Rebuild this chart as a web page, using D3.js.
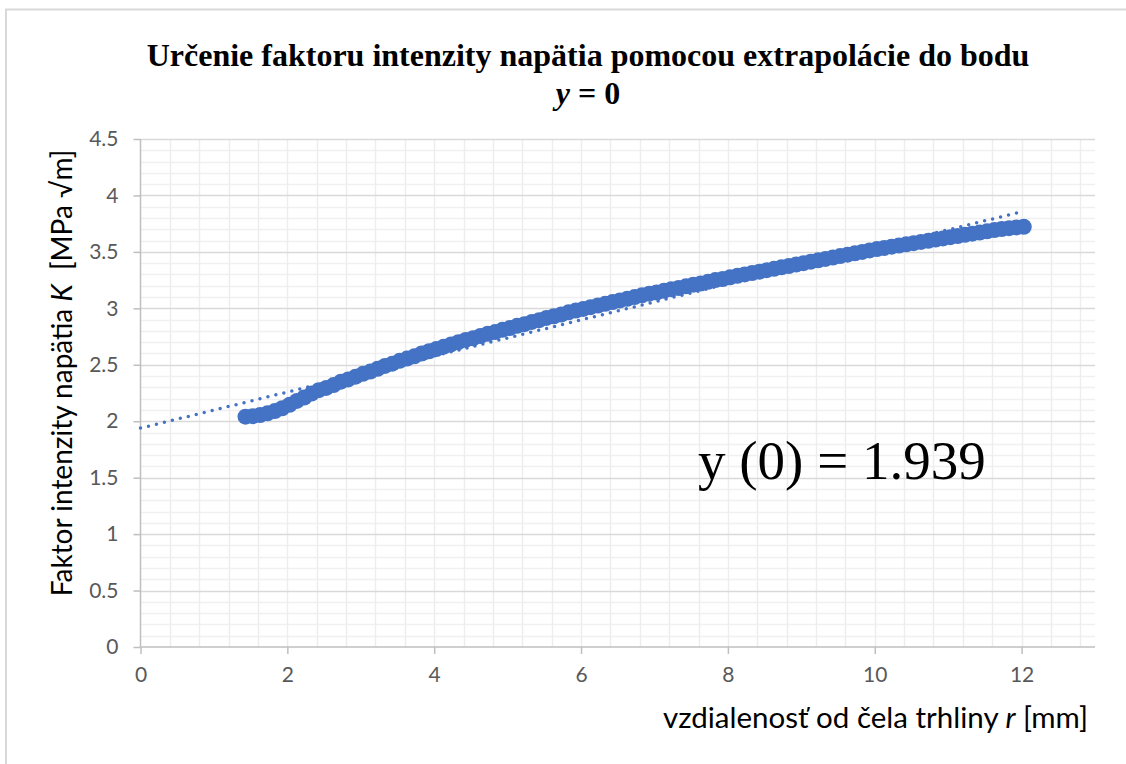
<!DOCTYPE html>
<html>
<head>
<meta charset="utf-8">
<script src="https://cdn.jsdelivr.net/npm/d3@7"></script>
<style>
  html, body { margin: 0; padding: 0; background: #fff; }
  svg { display: block; }
  text { white-space: pre; }
</style>
</head>
<body>
<svg id="chart" width="1126" height="764"></svg>
<script>
// Distance from the crack front r [mm]
const rValues = [
  1.43, 1.53, 1.63, 1.73, 1.83, 1.93, 2.03, 2.13, 2.23, 2.33,
  2.43, 2.53, 2.63, 2.73, 2.83, 2.93, 3.03, 3.13, 3.23, 3.33,
  3.43, 3.53, 3.63, 3.73, 3.83, 3.93, 4.03, 4.13, 4.23, 4.33,
  4.43, 4.53, 4.63, 4.73, 4.83, 4.93, 5.03, 5.13, 5.23, 5.33,
  5.43, 5.53, 5.63, 5.73, 5.83, 5.93, 6.03, 6.13, 6.23, 6.33,
  6.43, 6.53, 6.63, 6.73, 6.83, 6.93, 7.03, 7.13, 7.23, 7.33,
  7.43, 7.53, 7.63, 7.73, 7.83, 7.93, 8.03, 8.13, 8.23, 8.33,
  8.43, 8.53, 8.63, 8.73, 8.83, 8.93, 9.03, 9.13, 9.23, 9.33,
  9.43, 9.53, 9.63, 9.73, 9.83, 9.93, 10.03, 10.13, 10.23, 10.33,
  10.43, 10.53, 10.63, 10.73, 10.83, 10.93, 11.03, 11.13, 11.23, 11.33,
  11.43, 11.53, 11.63, 11.73, 11.83, 11.93, 12.03
];

// Stress intensity factor K [MPa √m]
const kValues = [
  2.040, 2.045, 2.055, 2.070, 2.090, 2.115, 2.145, 2.180, 2.210, 2.245,
  2.275, 2.295, 2.320, 2.350, 2.370, 2.395, 2.420, 2.440, 2.465, 2.490,
  2.510, 2.535, 2.555, 2.575, 2.600, 2.620, 2.640, 2.660, 2.680, 2.700,
  2.720, 2.735, 2.755, 2.775, 2.790, 2.810, 2.825, 2.845, 2.860, 2.880,
  2.895, 2.915, 2.930, 2.945, 2.965, 2.980, 2.995, 3.010, 3.025, 3.040,
  3.055, 3.070, 3.085, 3.100, 3.115, 3.130, 3.140, 3.155, 3.170, 3.180,
  3.195, 3.210, 3.220, 3.235, 3.250, 3.260, 3.275, 3.288, 3.300, 3.313,
  3.325, 3.338, 3.350, 3.363, 3.375, 3.388, 3.400, 3.413, 3.425, 3.438,
  3.450, 3.463, 3.475, 3.488, 3.500, 3.513, 3.525, 3.535, 3.546, 3.556,
  3.567, 3.577, 3.588, 3.598, 3.609, 3.619, 3.630, 3.640, 3.651, 3.661,
  3.672, 3.682, 3.693, 3.703, 3.710, 3.717, 3.722
];

// Linear trend extrapolated to r = 0
const trendIntercept = 1.939;
const trendSlope = 0.1597;
const trendExtent = [0, 12];

// Axis settings
const xDomain = [0, 13];
const yDomain = [0, 4.5];
const xTickValues = [0, 2, 4, 6, 8, 10, 12];
const yTickValues = [0, 0.5, 1, 1.5, 2, 2.5, 3, 3.5, 4, 4.5];
const xMinorStep = 0.4;
const yMinorStep = 0.1;

const titleLine1 = "Určenie faktoru intenzity napätia pomocou extrapolácie do bodu";
const annotationText = "y (0) = 1.939";

const points = rValues.map((r, i) => ({ r, k: kValues[i] }));

const svg = d3.select("#chart");
const W = 1126, H = 764;
const plot = { left: 140.5, right: 1095, top: 139, bottom: 647 };

const x = d3.scaleLinear().domain(xDomain).range([plot.left, plot.right]);
const y = d3.scaleLinear().domain(yDomain).range([plot.bottom, plot.top]);

const blue = "#4472C4";
const sans = "Lato, 'Liberation Sans', sans-serif";
const serif = "'Liberation Serif', 'Times New Roman', serif";

// Chart frame
svg.append("rect")
  .attr("x", 6).attr("y", 9.5)
  .attr("width", W + 20).attr("height", H + 20)
  .attr("fill", "#fff")
  .attr("stroke", "#d9d9d9").attr("stroke-width", 2);

// Minor gridlines
const grid = svg.append("g");
const xMinor = d3.range(xMinorStep, xDomain[1] + 1e-9, xMinorStep);
const yMinor = d3.range(yMinorStep, yDomain[1] + 1e-9, yMinorStep)
  .filter(v => Math.abs(v * 2 - Math.round(v * 2)) > 1e-6);

grid.selectAll(".ymin").data(yMinor).join("line")
  .attr("x1", plot.left).attr("x2", plot.right)
  .attr("y1", d => Math.round(y(d)) + 0.5).attr("y2", d => Math.round(y(d)) + 0.5)
  .attr("stroke", "#f0f0f0").attr("stroke-width", 1.5);

grid.selectAll(".xmin").data(xMinor).join("line")
  .attr("x1", d => Math.round(x(d)) + 0.5).attr("x2", d => Math.round(x(d)) + 0.5)
  .attr("y1", plot.top).attr("y2", plot.bottom)
  .attr("stroke", "#ededed").attr("stroke-width", 1.5);

// Major horizontal gridlines
grid.selectAll(".ymaj").data(yTickValues.filter(v => v > 0)).join("line")
  .attr("x1", plot.left).attr("x2", plot.right)
  .attr("y1", d => Math.round(y(d)) + 0.5).attr("y2", d => Math.round(y(d)) + 0.5)
  .attr("stroke", "#d9d9d9").attr("stroke-width", 1.5);

// Axes
const xAxis = d3.axisBottom(x)
  .tickValues(xTickValues).tickSize(7).tickPadding(13)
  .tickFormat(d3.format(""));
const yAxis = d3.axisLeft(y)
  .tickValues(yTickValues).tickSize(7).tickPadding(15)
  .tickFormat(d3.format(""));

const gx = svg.append("g")
  .attr("transform", `translate(0,${plot.bottom})`)
  .call(xAxis);
const gy = svg.append("g")
  .attr("transform", `translate(${plot.left},0)`)
  .call(yAxis);

[gx, gy].forEach(g => {
  g.select(".domain").attr("stroke", "#bfbfbf").attr("stroke-width", 1.5);
  g.selectAll(".tick line").attr("stroke", "#bfbfbf").attr("stroke-width", 1.5);
  g.selectAll(".tick text")
    .attr("fill", "#595959")
    .style("font-family", sans)
    .style("font-size", "21px");
});
gx.select(".domain").attr("d", `M${plot.left},0H${plot.right}`);
gy.select(".domain").attr("d", `M0,${plot.bottom}V${plot.top}`);

// Trendline (dotted)
const trend = trendExtent.map(r => ({ r, k: trendIntercept + trendSlope * r }));
svg.append("path")
  .datum(trend)
  .attr("d", d3.line().x(d => x(d.r)).y(d => y(d.k)))
  .attr("fill", "none")
  .attr("stroke", blue)
  .attr("stroke-width", 3.5)
  .attr("stroke-linecap", "round")
  .attr("stroke-dasharray", "0 8.2");

// Data markers
svg.append("g").selectAll("circle").data(points).join("circle")
  .attr("cx", d => x(d.r))
  .attr("cy", d => y(d.k))
  .attr("r", 8)
  .attr("fill", blue);

// Title
const title = svg.append("text")
  .attr("text-anchor", "middle")
  .style("font-family", serif)
  .style("font-weight", "bold")
  .style("font-size", "32px")
  .attr("fill", "#000");
title.append("tspan").attr("x", 588).attr("y", 66).text(titleLine1);
const t2 = title.append("tspan").attr("x", 588).attr("y", 104);
t2.append("tspan").style("font-style", "italic").text("y");
t2.append("tspan").text(" = 0");

// Annotation
svg.append("text")
  .attr("x", 698).attr("y", 479)
  .style("font-family", serif)
  .style("font-size", "55px")
  .attr("fill", "#000")
  .text(annotationText);

// Axis titles
const xt = svg.append("text")
  .attr("x", 1088).attr("y", 728)
  .attr("text-anchor", "end")
  .style("font-family", sans)
  .style("font-size", "29.5px")
  .attr("fill", "#000");
xt.append("tspan").text("vzdialenosť od čela trhliny ");
xt.append("tspan").style("font-style", "italic").text("r");
xt.append("tspan").text(" [mm]");

const yt = svg.append("text")
  .attr("transform", `translate(72,373) rotate(-90)`)
  .attr("text-anchor", "middle")
  .style("font-family", sans)
  .style("font-size", "28px")
  .attr("fill", "#000");
yt.append("tspan").text("Faktor intenzity napätia ");
yt.append("tspan").style("font-style", "italic").text("K");
yt.append("tspan").text("  [MPa √m]");
</script>
</body>
</html>
